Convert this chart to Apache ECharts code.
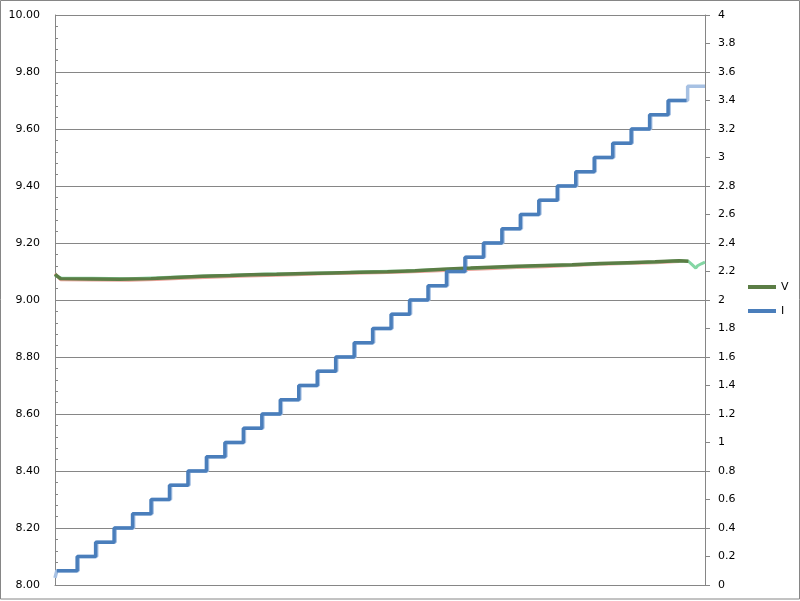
<!DOCTYPE html>
<html>
<head>
<meta charset="utf-8">
<script src="https://cdn.jsdelivr.net/npm/echarts@6/dist/echarts.min.js"></script>
<style>
html,body{margin:0;padding:0;background:#fff;}
#c{width:800px;height:601px;}
</style>
</head>
<body>
<div id="c"></div>
<script>
// Current I (right axis), dark trace: step start positions and levels
var I_x = [1,12,22,32,42,52,62,72,82,92,102,112,122,132,142,152,162,172,182,192,202,212,222,232,242,252,262,272,282,292,302,312,322,332,342];
var I_y = [0.1,0.2,0.3,0.4,0.5,0.6,0.7,0.8,0.9,1.0,1.1,1.2,1.3,1.4,1.5,1.6,1.7,1.8,1.9,2.0,2.1,2.2,2.3,2.4,2.5,2.6,2.7,2.8,2.9,3.0,3.1,3.2,3.3,3.4,3.4];
// Current I, light trace
var I2_x = [0,1,12.6,22.6,32.6,42.6,52.6,62.6,72.6,82.6,92.6,102.6,112.6,122.6,132.6,142.6,152.6,162.6,172.6,182.6,192.6,202.6,212.6,222.6,232.6,242.6,252.6,262.6,272.6,282.6,292.6,302.6,312.6,322.6,332.6,342.6,352];
var I2_y = [0.05,0.1,0.2,0.3,0.4,0.5,0.6,0.7,0.8,0.9,1.0,1.1,1.2,1.3,1.4,1.5,1.6,1.7,1.8,1.9,2.0,2.1,2.2,2.3,2.4,2.5,2.6,2.7,2.8,2.9,3.0,3.1,3.2,3.3,3.4,3.5,3.5];
// Voltage V (left axis), dark trace
var V_x = [0,1,3,20,35,52,65,80,95,106,120,135,150,165,180,195,210,225,236,250,265,280,295,310,325,338,343];
var V_y = [9.090,9.086,9.075,9.074,9.073,9.075,9.079,9.083,9.086,9.089,9.090,9.093,9.095,9.097,9.099,9.103,9.108,9.112,9.115,9.118,9.121,9.124,9.128,9.131,9.134,9.138,9.136];
// Voltage, light green trace
var V2_x = [0,2,4,20,40,55,70,85,100,115,130,145,160,175,190,205,220,235,250,265,280,295,310,325,338,343,345,347,348,349,350,352];
var V2_y = [9.088,9.080,9.076,9.076,9.075,9.078,9.082,9.085,9.088,9.091,9.092,9.095,9.097,9.100,9.102,9.106,9.110,9.114,9.117,9.121,9.123,9.127,9.130,9.133,9.138,9.136,9.124,9.112,9.120,9.114,9.127,9.133];
// Voltage, light red trace
var V3_x = [0,1,3,20,40,55,70,85,100,115,130,145,160,175,190,205,220,235,250,265,280,295,310,325,338];
var V3_y = [9.093,9.085,9.071,9.070,9.069,9.072,9.076,9.080,9.083,9.086,9.089,9.092,9.094,9.096,9.098,9.102,9.106,9.110,9.114,9.117,9.121,9.125,9.128,9.131,9.135];

function pairs(xs, ys){ return xs.map(function(x,i){ return [x, ys[i]]; }); }

var FONT = 'DejaVu Sans';
var GRAY = '#868686';
var chart = echarts.init(document.getElementById('c'), null, {renderer:'canvas'});
chart.setOption({
  animation: false,
  backgroundColor: '#fff',
  textStyle: {fontFamily: FONT},
  graphic: [{type:'rect', shape:{x:0.5,y:0.5,width:799,height:598.5}, style:{fill:'none', stroke:GRAY, lineWidth:1}, z:-10}],
  grid: {left:55, right:95, top:15, bottom:16, containLabel:false},
  legend: {
    orient:'vertical', left:748, top:280, padding:0, itemGap:10,
    itemWidth:28, itemHeight:4, icon:'rect',
    textStyle:{fontFamily:FONT, fontSize:11, color:'#000', lineHeight:14},
    data:['V','I']
  },
  xAxis: {
    type:'value', min:0, max:352,
    axisLine:{show:true, lineStyle:{color:GRAY, width:1}},
    axisTick:{show:false}, axisLabel:{show:false}, splitLine:{show:false}
  },
  yAxis: [{
    type:'value', min:8, max:10, interval:0.2, position:'left',
    axisLine:{show:true, lineStyle:{color:GRAY}},
    axisTick:{show:true, inside:true, length:3, lineStyle:{color:GRAY}},
    minorTick:{show:true, splitNumber:5, length:3, lineStyle:{color:GRAY}},
    splitLine:{show:true, lineStyle:{color:GRAY, width:1}},
    axisLabel:{margin:15, fontFamily:FONT, fontSize:11, color:'#000', formatter:function(v){return v.toFixed(2);}}
  },{
    type:'value', min:0, max:4, interval:0.2, position:'right',
    axisLine:{show:true, lineStyle:{color:GRAY}},
    axisTick:{show:true, inside:false, length:5, lineStyle:{color:GRAY}},
    splitLine:{show:false},
    axisLabel:{margin:13, fontFamily:FONT, fontSize:11, color:'#000'}
  }],
  series: [
    {name:'I light', type:'line', yAxisIndex:1, step:'end', showSymbol:false, symbol:'none', data:pairs(I2_x, I2_y), lineStyle:{color:'#a7c1e3', width:3.5}, itemStyle:{color:'#a7c1e3'}, z:1},
    {name:'V red', type:'line', yAxisIndex:0, showSymbol:false, symbol:'none', data:pairs(V3_x, V3_y), lineStyle:{color:'#eca49c', width:3}, itemStyle:{color:'#eca49c'}, z:2},
    {name:'V light', type:'line', yAxisIndex:0, showSymbol:false, symbol:'none', data:pairs(V2_x, V2_y), lineStyle:{color:'#84d6a4', width:3}, itemStyle:{color:'#84d6a4'}, z:3},
    {name:'V', type:'line', yAxisIndex:0, showSymbol:false, symbol:'none', data:pairs(V_x, V_y), lineStyle:{color:'#5b7d45', width:3.5}, itemStyle:{color:'#5b7d45'}, z:5},
    {name:'I', type:'line', yAxisIndex:1, step:'end', showSymbol:false, symbol:'none', data:pairs(I_x, I_y), lineStyle:{color:'#4a7ebb', width:3.5}, itemStyle:{color:'#4a7ebb'}, z:6}
  ]
});
</script>
</body>
</html>
